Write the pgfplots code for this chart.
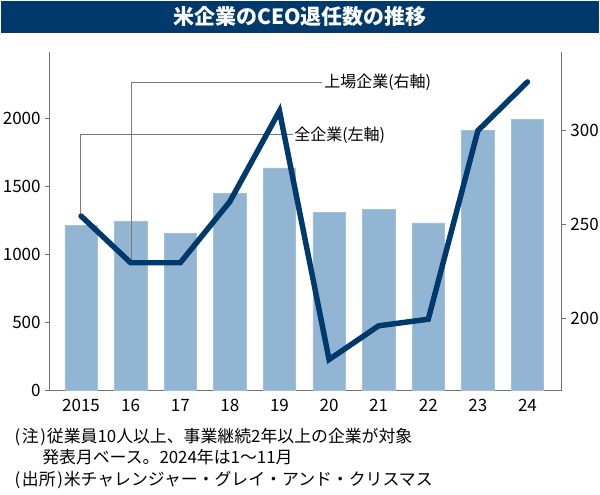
\documentclass[border=0pt]{standalone}
\usepackage{fontspec}
\setmainfont{Noto Sans CJK JP}
\usepackage{pgfplots}
\pgfplotsset{compat=1.18}
\definecolor{barblue}{HTML}{93B5D4}
\definecolor{navy}{HTML}{003A6C}
\definecolor{axisgray}{HTML}{707070}
\definecolor{leadgray}{HTML}{7A7A7A}

\pgfplotsset{
  common/.style={
    at={(36.975pt,78.225pt)}, anchor=south west,
    scale only axis, width=384.3pt, height=254.25pt,
    xmin=-0.64, xmax=9.69,
    axis line style={axisgray, line width=0.75pt},
    tick align=outside, major tick length=3pt,
    ticklabel style={font=\fontsize{12.75pt}{13pt}\selectfont},
    /pgf/number format/assume math mode=true,
    /pgf/number format/set thousands separator={},
    scaled y ticks=false,
  }
}
\newcommand{\po}{(\kern1.2pt}
\newcommand{\pc}{\kern1.2pt)\kern0.6pt}

\begin{document}
\begin{tikzpicture}
\useasboundingbox (0,0) rectangle (450pt,371.25pt);

% title bar
\fill[navy] (0.75pt,346.5pt) rectangle (449.25pt,370.5pt);
\node[text=white, font=\bfseries\fontsize{15.75pt}{16pt}\selectfont] at (225pt,358.5pt) {米企業のCEO退任数の推移};

% all companies, left axis
\begin{axis}[common,
  ymin=0, ymax=2490,
  axis x line*=bottom, axis y line*=left,
  xtick={0,...,9}, xticklabels={2015,16,17,18,19,20,21,22,23,24},
  xtick style={draw=none},
  ytick={0,500,1000,1500,2000},
  ytick style={axisgray, line width=0.75pt},
]
\addplot[ybar, bar width=0.655, fill=barblue, draw=barblue!85!white] coordinates {
  (0,1216) (1,1246) (2,1157) (3,1449) (4,1637)
  (5,1310) (6,1334) (7,1232) (8,1912) (9,1990)
};
\end{axis}

% leader lines
\draw[leadgray, line width=0.75pt] (98.25pt,174.2pt) -- (98.25pt,309.5pt) -- (241.5pt,309.5pt);
\draw[leadgray, line width=0.75pt] (60.5pt,209.25pt) -- (60.5pt,270.4pt) -- (219.75pt,270.4pt);
\node[anchor=west, inner sep=0pt, font=\fontsize{12pt}{13pt}\selectfont] at (243pt,309.75pt) {上場企業(右軸)};
\node[anchor=west, inner sep=0pt, font=\fontsize{12pt}{13pt}\selectfont] at (220.5pt,270pt) {全企業(左軸)};

% listed companies, right axis
\begin{axis}[common,
  ymin=161.4, ymax=342.1,
  axis x line=none, axis y line*=right,
  ytick={200,250,300},
  ytick style={axisgray, line width=0.75pt},
]
\addplot[navy, line width=4.1pt, line cap=round, line join=miter] coordinates {
  (0,254.5) (1,229.6) (2,229.6) (3,262.2) (4,310.5)
  (5,178) (6,196) (7,199.5) (8,300) (9,326)
};
\end{axis}

% notes
\begin{scope}[every node/.style={anchor=west, inner sep=0pt, font=\fontsize{12.65pt}{13pt}\selectfont}]
\node at (10.8pt,43.5pt) {\po 注\pc 従業員10人以上、事業継続2年以上の企業が対象};
\node at (31.5pt,28.5pt) {発表月ベース。2024年は1～11月};
\node at (10.8pt,11.25pt) {\po 出所\pc 米チャレンジャー・グレイ・アンド・クリスマス};
\end{scope}
\end{tikzpicture}
\end{document}
